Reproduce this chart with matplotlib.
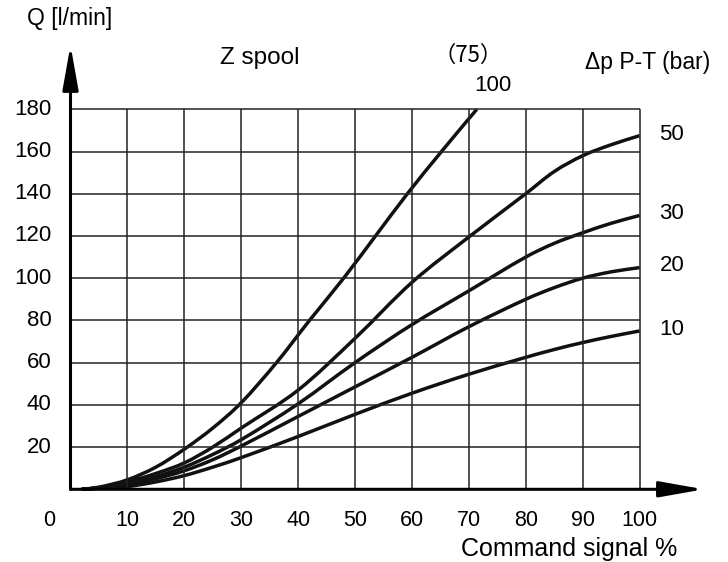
import numpy as np
import matplotlib
matplotlib.use("Agg")
import matplotlib.pyplot as plt
from matplotlib.path import Path
from matplotlib.patches import PathPatch

plt.rcParams['font.family'] = ['Liberation Sans', 'DejaVu Sans']

# Command signal % positions
x_pts = [2, 5, 10, 15, 20, 25, 30, 40, 50, 60, 70, 80, 85, 90, 95, 100]

# Flow Q [l/min] per pressure drop curve (bar)
q_10 = [0, 0.5, 1.3, 3.5, 6.5, 10.5, 15, 25, 35.5, 45.5, 54.5, 62.5, 66.2, 69.5, 72.4, 75]
q_20 = [0, 0.6, 2.2, 5.0, 8.8, 14, 20.5, 34.5, 48.5, 62.5, 77, 90, 95.5, 100, 103, 105]
q_30 = [0, 0.7, 2.8, 6.0, 10.5, 16.5, 23.5, 40.5, 60, 78, 94, 110, 116.5, 121.5, 126, 129.7]
q_50 = [0, 0.8, 3.5, 7.5, 12.5, 20, 29, 47, 71.5, 98, 119.5, 140, 150.5, 158, 163.2, 167.5]

# 100 bar curve leaves the chart at 180 l/min
x_100 = [2, 5, 10, 15, 20, 25, 30, 36.2, 42, 48, 53.6, 59.2, 65.2, 71.4]
q_100 = [0, 1.0, 4.5, 10.5, 19, 29, 41, 60, 80, 100, 120, 140, 160, 180]

curve_labels = ['10', '20', '30', '50']
x_ticks = [10, 20, 30, 40, 50, 60, 70, 80, 90, 100]
y_ticks = [20, 40, 60, 80, 100, 120, 140, 160, 180]


def smooth_path(x, y):
    # cubic Hermite segments through the read points, drawn as Bezier curves
    x = np.asarray(x, float)
    y = np.asarray(y, float)
    n = len(x)
    m = np.empty(n)
    m[0] = (y[1] - y[0]) / (x[1] - x[0])
    m[-1] = (y[-1] - y[-2]) / (x[-1] - x[-2])
    m[1:-1] = (y[2:] - y[:-2]) / (x[2:] - x[:-2])
    verts = [(x[0], y[0])]
    codes = [Path.MOVETO]
    for i in range(n - 1):
        h = (x[i + 1] - x[i]) / 3
        verts += [(x[i] + h, y[i] + m[i] * h),
                  (x[i + 1] - h, y[i + 1] - m[i + 1] * h),
                  (x[i + 1], y[i + 1])]
        codes += [Path.CURVE4] * 3
    return Path(verts, codes)


fig = plt.figure(figsize=(7.28, 5.62), dpi=100)
ax = fig.add_axes([0, 0, 1, 1])
ax.set_xlim(-12.39, 115.55)
ax.set_ylim(-34.44, 231.78)
ax.axis('off')

# grid
ax.vlines(x_ticks, 0, 180, color='#222222', lw=1.1)
ax.hlines(y_ticks, 0, 100, color='#222222', lw=1.1)

# axes with arrow heads
arrow = dict(arrowstyle='-|>,head_length=27,head_width=4.8', color='black',
             lw=2.2, shrinkA=0, shrinkB=0, mutation_scale=1)
ax.annotate('', xy=(0, 210.4), xytext=(0, 0), arrowprops=arrow)
ax.annotate('', xy=(111.3, 0), xytext=(0, 0), arrowprops=arrow)

# curves
for xs, q in [(x_pts, q_10), (x_pts, q_20), (x_pts, q_30), (x_pts, q_50), (x_100, q_100)]:
    ax.add_patch(PathPatch(smooth_path(xs, q), fill=False, edgecolor='#111111',
                           lw=2.5, capstyle='butt', joinstyle='round'))

fs = 16
for lab, q in zip(curve_labels, [q_10, q_20, q_30, q_50]):
    ax.text(103.5, q[-1] + 0.8, lab, fontsize=fs, ha='left', va='center')

for t in x_ticks:
    ax.text(t, -14.7, str(t), fontsize=15.5, ha='center', va='center')
ax.text(-3.8, -14.7, '0', fontsize=15.5, ha='center', va='center')
for t in y_ticks:
    ax.text(-3.3, t, str(t), fontsize=fs, ha='right', va='center')

ax.text(-7.6, 222.8, 'Q [l/min]', fontsize=16.5, ha='left', va='center')
ax.text(26.3, 204.3, 'Z spool', fontsize=17.5, ha='left', va='center')
ax.text(69.9, 205.7, '（75）', fontsize=fs, ha='center', va='center',
        family=['Noto Sans CJK SC', 'DejaVu Sans'])
ax.text(74.3, 191.5, '100', fontsize=fs, ha='center', va='center')
ax.text(90.4, 202, 'Δp P-T (bar)', fontsize=16.5, ha='left', va='center')
ax.text(68.7, -28.4, 'Command signal %', fontsize=18, ha='left', va='center')

fig.savefig('out.png', dpi=100)
